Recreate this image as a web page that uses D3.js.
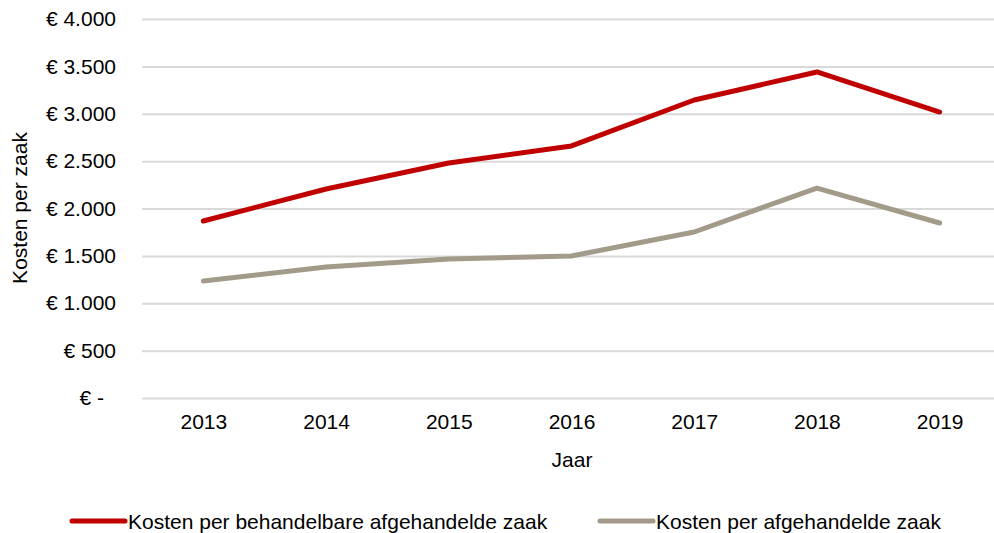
<!DOCTYPE html>
<html>
<head>
<meta charset="utf-8">
<script src="https://cdn.jsdelivr.net/npm/d3@7"></script>
<style>
body { margin: 0; background: #fff; }
svg text { font-family: "Liberation Sans", Arial, sans-serif; fill: #000; }
</style>
</head>
<body>
<div class="chart-wrapper"></div>
<script>
const years = ['2013', '2014', '2015', '2016', '2017', '2018', '2019']
const behandelbaar = [1868, 2206, 2480, 2660, 3145, 3441, 3018]
const afgehandeld = [1235, 1383, 1467, 1499, 1752, 2216, 1847]
const yTicks = [0, 500, 1000, 1500, 2000, 2500, 3000, 3500, 4000]
const seriesNames = ['Kosten per behandelbare afgehandelde zaak', 'Kosten per afgehandelde zaak']
const colors = ['#c00000', '#a39b89']

const width = 994
const height = 533
const margin = {top: 19, right: -7, bottom: 135, left: 142}
const fontSize = '21px'

const fmt = v => v === 0 ? '€ -' : '€ ' + d3.format(',')(v).replace(/,/g, '.')

let x = d3.scalePoint().domain(years).range([margin.left, width - margin.right]).padding(0.5)
let y = d3.scaleLinear().domain([0, 4000]).range([height - margin.bottom, margin.top])

let svg = d3.select('.chart-wrapper')
.append('svg')
.attr('width', width)
.attr('height', height)

// gridlines + y labels
let yaxis = svg.append('g')
.attr('class', 'y axis')
.attr('transform', 'translate(' + margin.left + ',0)')
.call(d3.axisLeft(y)
	.tickValues(yTicks)
	.tickFormat(fmt)
	.tickSizeInner(-(width - margin.left - margin.right))
	.tickSizeOuter(0)
	.tickPadding(26)
)
yaxis.select('.domain').remove()
yaxis.selectAll('line').attr('stroke', '#d9d9d9').attr('stroke-width', 2)
yaxis.selectAll('text').style('font-size', fontSize)
	.attr('dx', d => d === 0 ? -12 : 0)

let xaxis = svg.append('g')
.attr('class', 'x axis')
.attr('transform', 'translate(0,' + (height - margin.bottom) + ')')
.call(d3.axisBottom(x).tickSize(0).tickPadding(16))
xaxis.select('.domain').remove()
xaxis.selectAll('text').style('font-size', fontSize)

svg.append('text')
.attr('x', 572)
.attr('y', 467)
.attr('text-anchor', 'middle')
.style('font-size', fontSize)
.text('Jaar')

svg.append('text')
.attr('transform', 'translate(27,' + 208 + ') rotate(-90)')
.attr('text-anchor', 'middle')
.style('font-size', fontSize)
.text('Kosten per zaak')

const series = [behandelbaar, afgehandeld]

let line = d3.line()
.x((d, i) => x(years[i]))
.y(d => y(d))

series.forEach((s, i) => {
	svg.append('path')
	.datum(s)
	.attr('class', 'line')
	.attr('d', line)
	.style('fill', 'none')
	.style('stroke', colors[i])
	.style('stroke-width', 5)
	.style('stroke-linecap', 'round')
	.style('stroke-linejoin', 'round')
})

// legend
const legendX = [70, 598]
series.forEach((s, i) => {
	let g = svg.append('g').attr('transform', 'translate(' + legendX[i] + ',521)')
	g.append('line')
	.attr('x1', 2).attr('x2', 55)
	.attr('stroke', colors[i])
	.attr('stroke-width', 5)
	.attr('stroke-linecap', 'round')
	g.append('text')
	.attr('x', 58)
	.attr('y', 7.5)
	.style('font-size', fontSize)
	.text(seriesNames[i])
})
</script>
</body>
</html>
